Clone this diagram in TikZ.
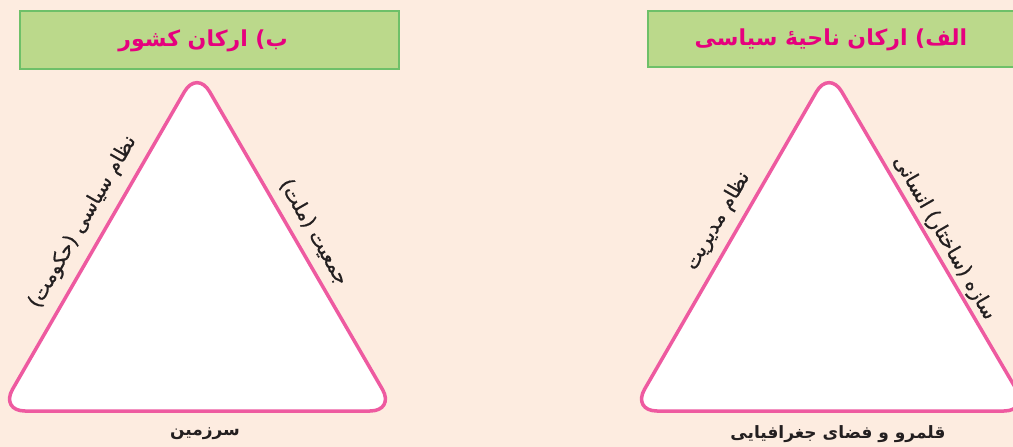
\documentclass[tikz,border=0pt]{standalone}
\usepackage{fontspec}
\newfontfamily\fa[Script=Arabic]{DejaVu Sans}
\newfontfamily\famed[Script=Arabic,FakeBold=0.9]{DejaVu Sans}
\TeXXeTstate=1
\usetikzlibrary{calc}
\definecolor{bg}{RGB}{253,236,224}
\definecolor{boxfill}{RGB}{187,217,139}
\definecolor{boxline}{RGB}{110,192,105}
\definecolor{tricol}{RGB}{238,90,160}
\definecolor{titlec}{RGB}{230,0,126}
\definecolor{txt}{RGB}{35,31,32}
\begin{document}
\begin{tikzpicture}[x=1pt,y=-1pt,
 titlebox/.style={draw=boxline, fill=boxfill, line width=1.2pt},
 triangle/.style={draw=tricol, fill=white, line width=3.5pt, rounded corners=25pt, line join=round},
 titletext/.style={text=titlec, font=\fa\bfseries\fontsize{22}{26}\selectfont},
 sidelabelL/.style={text=txt, font=\famed\fontsize{20}{24}\selectfont, inner sep=0pt, anchor=center, rotate=60},
 sidelabelR/.style={text=txt, font=\famed\fontsize{20}{24}\selectfont, inner sep=0pt, anchor=center, rotate=-60},
 baselabel/.style={text=txt, font=\fa\bfseries\fontsize{17}{20}\selectfont, inner sep=0pt}]
\useasboundingbox (0,0) rectangle (1013,447);
\clip (0,0) rectangle (1013,447);
\fill[bg] (0,0) rectangle (1013,447);
% title boxes
\draw[titlebox] (20,11) rectangle (399,69);
\draw[titlebox] (648,11) rectangle (1025,67);
\node[titletext] (tb) at (203,41) {\beginR ب) ارکان کشور\endR};
\node[titletext] (ta) at (831,40) {\beginR الف) ارکان ناحیهٔ سیاسی\endR};
% left triangle
\coordinate (LA) at (197,70);
\coordinate (LB) at (0,411);
\coordinate (LC) at (395,411);
\draw[triangle] (LA) -- (LB) -- (LC) -- cycle;
% right triangle
\coordinate (RA) at (829,70);
\coordinate (RB) at (632,411);
\coordinate (RC) at (1029,411);
\draw[triangle] (RA) -- (RB) -- (RC) -- cycle;
% labels
\node[sidelabelL] (l1) at (83,222) {\beginR نظام سیاسی (حکومت)\endR};
\node[sidelabelR] (l2) at (314,232) {\beginR جمعیت (ملت)\endR};
\node[baselabel] (l3) at (205,434) {\beginR سرزمین\endR};
\node[sidelabelL] (r1) at (718,221) {\beginR نظام مدیریت\endR};
\node[sidelabelR] (r2) at (944,238) {\beginR سازه (ساختار) انسانی\endR};
\node[baselabel] (r3) at (838,434) {\beginR قلمرو و فضای جغرافیایی\endR};
\end{tikzpicture}
\end{document}
